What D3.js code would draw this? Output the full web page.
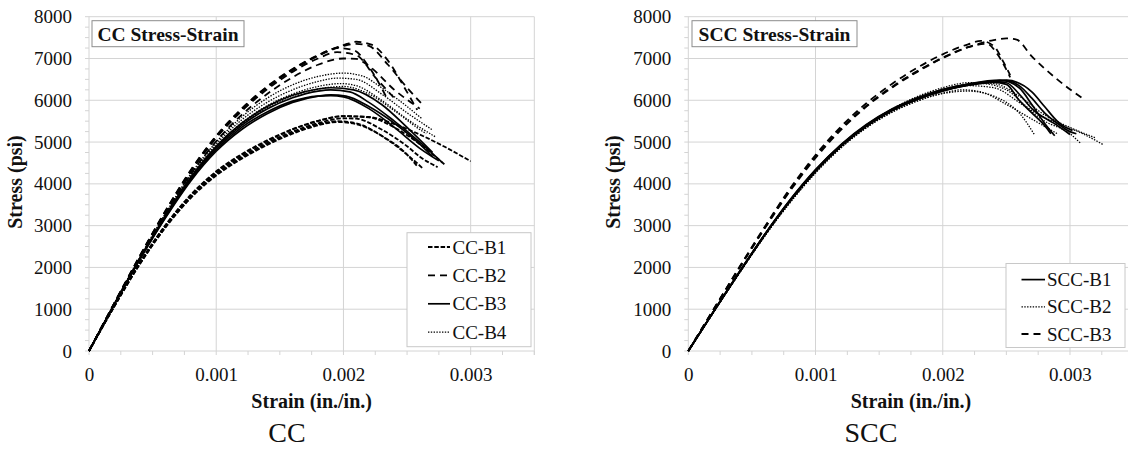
<!DOCTYPE html>
<html>
<head>
<meta charset="utf-8">
<script src="https://cdn.jsdelivr.net/npm/d3@7"></script>
<style>
  body { margin: 0; background: #fff; }
  svg text { font-family: "Liberation Serif", "Times New Roman", serif !important; fill: #111; }
</style>
</head>
<body>
<svg id="fig" width="1128" height="454" font-family="Liberation Serif, serif"></svg>
<script>
// Tick values shared by both panels
const xTicks = [0, 0.001, 0.002, 0.003];
const xTickLabels = ["0", "0.001", "0.002", "0.003"];
const yTicks = [0, 1000, 2000, 3000, 4000, 5000, 6000, 7000, 8000];
const xMinor = [0.00025, 0.0005, 0.00075, 0.00125, 0.0015, 0.00175, 0.00225, 0.0025, 0.00275, 0.00325, 0.0035];
const yMinor = [250, 500, 750, 1250, 1500, 1750, 2250, 2500, 2750, 3250, 3500, 3750, 4250, 4500, 4750,
                5250, 5500, 5750, 6250, 6500, 6750, 7250, 7500, 7750];

// CC specimens, [strain, stress psi]
const ccB1 = [
  [[0,0],[0.0002,1080],[0.0004,2100],[0.0006,2980],[0.0008,3700],[0.001,4250],[0.0012,4650],[0.0014,4980],[0.0016,5250],[0.0018,5450],[0.002,5570],[0.0021,5560],[0.0023,5300],[0.0025,4900],[0.0026,4650],[0.00274,4400]],
  [[0,0],[0.0002,1070],[0.0004,2080],[0.0006,2950],[0.0008,3660],[0.001,4200],[0.0012,4600],[0.0014,4930],[0.0016,5200],[0.0018,5400],[0.00195,5480],[0.0021,5430],[0.0023,5150],[0.0025,4700],[0.00258,4420]],
  [[0,0],[0.0002,1090],[0.0004,2120],[0.0006,3010],[0.0008,3740],[0.001,4300],[0.0012,4710],[0.0014,5040],[0.0016,5310],[0.0018,5510],[0.002,5620],[0.0022,5590],[0.0024,5350],[0.0026,4950],[0.0028,4450]],
  [[0,0],[0.0002,1080],[0.0004,2090],[0.0006,2960],[0.0008,3680],[0.001,4220],[0.0012,4620],[0.0014,4950],[0.0016,5220],[0.0018,5420],[0.00195,5500],[0.0021,5450],[0.0023,5150],[0.0025,4700],[0.00262,4380]],
  [[0,0],[0.0002,1090],[0.0004,2110],[0.0006,3000],[0.0008,3720],[0.001,4280],[0.0012,4690],[0.0014,5020],[0.0016,5300],[0.0018,5500],[0.002,5620],[0.0022,5600],[0.0024,5430],[0.0026,5180],[0.0028,4880],[0.003,4540]]
];
const ccB2 = [
  [[0,0],[0.0002,1150],[0.0004,2280],[0.0006,3350],[0.0008,4330],[0.001,5150],[0.0012,5800],[0.0014,6330],[0.0016,6750],[0.0018,7080],[0.002,7320],[0.0021,7400],[0.00222,7330],[0.00235,6950],[0.00248,6300],[0.00258,5770]],
  [[0,0],[0.0002,1140],[0.0004,2260],[0.0006,3320],[0.0008,4290],[0.001,5100],[0.0012,5740],[0.0014,6260],[0.0016,6680],[0.0018,7000],[0.00195,7150],[0.0021,7080],[0.00225,6550],[0.0024,6050]],
  [[0,0],[0.0002,1130],[0.0004,2240],[0.0006,3280],[0.0008,4230],[0.001,5020],[0.0012,5650],[0.0014,6150],[0.0016,6550],[0.0018,6850],[0.002,7000],[0.0021,6990],[0.0022,6820],[0.0024,6250],[0.0026,5800]],
  [[0,0],[0.0002,1150],[0.0004,2270],[0.0006,3340],[0.0008,4320],[0.001,5140],[0.0012,5790],[0.0014,6320],[0.0016,6740],[0.0018,7070],[0.00195,7250],[0.00208,7200],[0.0022,6800],[0.00235,6000]],
  [[0,0],[0.0002,1145],[0.0004,2270],[0.0006,3330],[0.0008,4300],[0.001,5120],[0.0012,5770],[0.0014,6300],[0.0016,6720],[0.0018,7060],[0.002,7300],[0.0021,7350],[0.0022,7300],[0.00235,6850],[0.0025,6300],[0.00262,5900]]
];
const ccB3 = [
  [[0,0],[0.0002,1120],[0.0004,2200],[0.0006,3200],[0.0008,4100],[0.001,4820],[0.0012,5350],[0.0014,5720],[0.0016,5980],[0.0018,6100],[0.0019,6110],[0.002,6080],[0.0022,5800],[0.0024,5350],[0.0026,4850],[0.00275,4550]],
  [[0,0],[0.0002,1125],[0.0004,2210],[0.0006,3220],[0.0008,4130],[0.001,4860],[0.0012,5400],[0.0014,5790],[0.0016,6060],[0.0018,6220],[0.0019,6250],[0.00205,6200],[0.0022,5950],[0.0024,5500],[0.0026,5000],[0.00278,4500]],
  [[0,0],[0.0002,1130],[0.0004,2220],[0.0006,3240],[0.0008,4160],[0.001,4900],[0.0012,5450],[0.0014,5850],[0.0016,6120],[0.0018,6270],[0.0019,6300],[0.00208,6250],[0.0023,5900],[0.0025,5350],[0.0027,4750]],
  [[0,0],[0.0002,1115],[0.0004,2190],[0.0006,3180],[0.0008,4070],[0.001,4780],[0.0012,5300],[0.0014,5680],[0.0016,5950],[0.0018,6100],[0.0019,6130],[0.00202,6100],[0.0022,5850],[0.0024,5450],[0.0026,4950],[0.0027,4650]]
];
const ccB4 = [
  [[0,0],[0.0002,1130],[0.0004,2230],[0.0006,3260],[0.0008,4200],[0.001,4950],[0.0012,5530],[0.0014,5950],[0.0016,6250],[0.0018,6450],[0.00195,6530],[0.0021,6500],[0.0023,6150],[0.0025,5700],[0.0027,5290]],
  [[0,0],[0.0002,1125],[0.0004,2220],[0.0006,3240],[0.0008,4160],[0.001,4900],[0.0012,5460],[0.0014,5870],[0.0016,6150],[0.0018,6330],[0.00198,6400],[0.0021,6350],[0.0023,6000],[0.0025,5550],[0.00272,5130]],
  [[0,0],[0.0002,1140],[0.0004,2250],[0.0006,3290],[0.0008,4240],[0.001,5000],[0.0012,5600],[0.0014,6050],[0.0016,6370],[0.0018,6570],[0.002,6650],[0.00215,6580],[0.0023,6300],[0.0025,5850],[0.00262,5550]],
  [[0,0],[0.0002,1125],[0.0004,2210],[0.0006,3230],[0.0008,4140],[0.001,4870],[0.0012,5420],[0.0014,5820],[0.0016,6100],[0.0018,6270],[0.002,6330],[0.0022,6150],[0.0024,5750],[0.0026,5300],[0.00265,5200]]
];

// SCC specimens
const sccB1 = [
  [[0,0],[0.0002,950],[0.0004,1880],[0.0006,2780],[0.0008,3600],[0.001,4320],[0.0012,4920],[0.0014,5400],[0.0016,5770],[0.0018,6040],[0.002,6240],[0.0022,6370],[0.0024,6450],[0.0025,6470],[0.0026,6350],[0.0027,6050],[0.0028,5700],[0.0029,5450],[0.003,5250],[0.00305,5200]],
  [[0,0],[0.0002,955],[0.0004,1890],[0.0006,2790],[0.0008,3620],[0.001,4340],[0.0012,4940],[0.0014,5420],[0.0016,5790],[0.0018,6060],[0.002,6260],[0.0022,6390],[0.00245,6480],[0.0026,6300],[0.0027,5900],[0.0028,5450],[0.00288,5150]],
  [[0,0],[0.0002,945],[0.0004,1870],[0.0006,2770],[0.0008,3590],[0.001,4300],[0.0012,4900],[0.0014,5380],[0.0016,5750],[0.0018,6020],[0.002,6220],[0.0022,6360],[0.0024,6440],[0.0025,6420],[0.0026,6150],[0.0027,5800],[0.0029,5400],[0.003,5180]],
  [[0,0],[0.0002,950],[0.0004,1885],[0.0006,2785],[0.0008,3610],[0.001,4330],[0.0012,4930],[0.0014,5410],[0.0016,5780],[0.0018,6050],[0.002,6250],[0.0022,6390],[0.0024,6460],[0.0025,6480],[0.0027,6200],[0.0028,5850],[0.0029,5500],[0.003,5300],[0.00302,5280]],
  [[0,0],[0.0002,948],[0.0004,1875],[0.0006,2775],[0.0008,3595],[0.001,4310],[0.0012,4910],[0.0014,5390],[0.0016,5760],[0.0018,6030],[0.002,6230],[0.0022,6360],[0.0024,6430],[0.0025,6380],[0.0026,6000],[0.0027,5700],[0.0028,5400],[0.00285,5200]]
];
const sccB2 = [
  [[0,0],[0.0002,940],[0.0004,1860],[0.0006,2750],[0.0008,3560],[0.001,4270],[0.0012,4870],[0.0014,5350],[0.0016,5720],[0.0018,5990],[0.002,6160],[0.0022,6220],[0.0024,6100],[0.0025,5950],[0.0026,5700],[0.00272,5180]],
  [[0,0],[0.0002,945],[0.0004,1870],[0.0006,2760],[0.0008,3580],[0.001,4290],[0.0012,4890],[0.0014,5380],[0.0016,5760],[0.0018,6050],[0.002,6260],[0.0022,6380],[0.0023,6400],[0.0025,6250],[0.0027,5750],[0.0029,5450],[0.0031,5200],[0.00326,4940]],
  [[0,0],[0.0002,942],[0.0004,1865],[0.0006,2755],[0.0008,3570],[0.001,4280],[0.0012,4880],[0.0014,5360],[0.0016,5740],[0.0018,6030],[0.002,6230],[0.0022,6350],[0.0024,6300],[0.0026,5950],[0.0028,5500],[0.003,5200],[0.00308,4980]],
  [[0,0],[0.0002,948],[0.0004,1875],[0.0006,2770],[0.0008,3590],[0.001,4300],[0.0012,4910],[0.0014,5400],[0.0016,5790],[0.0018,6090],[0.002,6300],[0.0022,6420],[0.0024,6400],[0.0026,6100],[0.0028,5650],[0.003,5350],[0.0032,5100]],
  [[0,0],[0.0002,940],[0.0004,1858],[0.0006,2745],[0.0008,3550],[0.001,4260],[0.0012,4860],[0.0014,5340],[0.0016,5710],[0.0018,5980],[0.002,6170],[0.00215,6250],[0.0023,6200],[0.0025,5900],[0.0027,5550],[0.0029,5200]]
];
const sccB3 = [
  [[0,0],[0.0002,1000],[0.0004,1990],[0.0006,2950],[0.0008,3860],[0.001,4650],[0.0012,5320],[0.0014,5870],[0.0016,6320],[0.0018,6700],[0.002,7020],[0.0022,7270],[0.00235,7350],[0.00243,7100],[0.00253,6550]],
  [[0,0],[0.0002,1005],[0.0004,2000],[0.0006,2970],[0.0008,3890],[0.001,4690],[0.0012,5370],[0.0014,5930],[0.0016,6390],[0.0018,6780],[0.002,7100],[0.0022,7340],[0.0023,7420],[0.0024,7300],[0.00248,6900],[0.00253,6600]],
  [[0,0],[0.0002,995],[0.0004,1975],[0.0006,2930],[0.0008,3830],[0.001,4620],[0.0012,5290],[0.0014,5850],[0.0016,6300],[0.0018,6680],[0.002,7010],[0.0022,7270],[0.0024,7440],[0.0025,7480],[0.00258,7450],[0.0027,7050],[0.0029,6500],[0.00312,6000]]
];

const styles = {
  shortDash: { dash: "4.5,1.8", width: 1.8 },
  longDash:  { dash: "7,5",     width: 1.8 },
  solid:     { dash: null,      width: 1.7 },
  dot:       { dash: "1.4,1.4", width: 1.3 }
};

const svg = d3.select("#fig");
const gridColor = "#d4d4d4";
const serif = '"Liberation Serif", "Times New Roman", serif';

function drawChart(cfg) {
  const g = svg.append("g");
  const x = d3.scaleLinear().domain([0, 0.0035]).range([cfg.x0, cfg.x1]);
  const y = d3.scaleLinear().domain([0, 8000]).range([351, 16.7]);

  // gridlines
  g.selectAll(".hgrid").data(yTicks.slice(1)).join("line")
    .attr("x1", x(0) - 4).attr("x2", x(0.0035))
    .attr("y1", d => y(d)).attr("y2", d => y(d))
    .attr("stroke", gridColor).attr("stroke-width", 1);
  g.selectAll(".vgrid").data([0.001, 0.002, 0.003, 0.0035]).join("line")
    .attr("x1", d => x(d)).attr("x2", d => x(d))
    .attr("y1", y(8000)).attr("y2", y(0) + 4)
    .attr("stroke", gridColor).attr("stroke-width", 1);

  // minor ticks
  g.selectAll(".ymin").data(yMinor).join("line")
    .attr("x1", x(0) - 4).attr("x2", x(0))
    .attr("y1", d => y(d)).attr("y2", d => y(d))
    .attr("stroke", gridColor);
  g.selectAll(".xmin").data(xMinor).join("line")
    .attr("x1", d => x(d)).attr("x2", d => x(d))
    .attr("y1", y(0)).attr("y2", y(0) + 4)
    .attr("stroke", gridColor);

  // axis lines
  g.append("line").attr("x1", x(0) - 4).attr("x2", x(0.0035)).attr("y1", y(0)).attr("y2", y(0))
    .attr("stroke", gridColor);
  g.append("line").attr("x1", x(0)).attr("x2", x(0)).attr("y1", y(8000)).attr("y2", y(0) + 4)
    .attr("stroke", gridColor);

  // tick labels
  const xa = g.append("g").attr("transform", `translate(0,${y(0)})`)
    .call(d3.axisBottom(x).tickValues(xTicks).tickFormat((d, i) => xTickLabels[i]).tickSize(0).tickPadding(17));
  const ya = g.append("g").attr("transform", `translate(${x(0)},0)`)
    .call(d3.axisLeft(y).tickValues(yTicks).tickFormat(d3.format("d")).tickSize(0).tickPadding(17));
  [xa, ya].forEach(a => {
    a.attr("font-family", serif);
    a.select(".domain").remove();
    a.selectAll("text").style("font-size", "19px").attr("fill", "#111");
  });

  // curves
  const line = d3.line().x(d => x(d[0])).y(d => y(d[1])).curve(d3.curveMonotoneX);
  cfg.series.forEach(s => {
    const st = styles[s.style];
    g.append("g").selectAll("path").data(s.curves).join("path")
      .attr("d", line)
      .attr("fill", "none")
      .attr("stroke", "#000")
      .attr("stroke-width", st.width)
      .attr("stroke-dasharray", st.dash);
  });

  // axis titles
  g.append("text")
    .attr("x", (x(0) + x(0.0035)) / 2).attr("y", 408)
    .attr("text-anchor", "middle")
    .style("font-size", "20px").style("font-weight", "bold")
    .text("Strain (in./in.)");
  g.append("text")
    .attr("transform", `translate(${cfg.yTitleX},182) rotate(-90)`)
    .attr("text-anchor", "middle")
    .style("font-size", "20px").style("font-weight", "bold")
    .text("Stress (psi)");

  // title box
  g.append("rect")
    .attr("x", cfg.titleBox[0]).attr("y", 20.7)
    .attr("width", cfg.titleBox[1]).attr("height", 26)
    .attr("fill", "#fff").attr("stroke", "#8c8c8c");
  g.append("text")
    .attr("x", cfg.titleBox[0] + cfg.titleBox[1] / 2).attr("y", 40.5)
    .attr("text-anchor", "middle")
    .style("font-size", "19.5px").style("font-weight", "bold")
    .text(cfg.title);

  // legend
  const lg = cfg.legend;
  g.append("rect")
    .attr("x", lg.x).attr("y", lg.y).attr("width", lg.w).attr("height", lg.h)
    .attr("fill", "#fff").attr("stroke", "#c8c8c8");
  const items = g.selectAll(".leg").data(cfg.series).join("g")
    .attr("transform", (d, i) => `translate(0,${lg.first + i * lg.step})`);
  items.append("line")
    .attr("x1", lg.lx0).attr("x2", lg.lx1).attr("y1", 0).attr("y2", 0)
    .attr("stroke", "#000")
    .attr("stroke-width", d => styles[d.style].width)
    .attr("stroke-dasharray", d => styles[d.style].dash);
  items.append("text")
    .attr("x", lg.tx).attr("y", 6.5)
    .style("font-size", "19px")
    .text(d => d.name);

  // caption
  g.append("text")
    .attr("x", cfg.captionX).attr("y", 442)
    .attr("text-anchor", "middle")
    .style("font-size", "28px")
    .text(cfg.caption);
}

drawChart({
  x0: 89, x1: 534.3,
  yTitleX: 22,
  title: "CC Stress-Strain", titleBox: [92, 152],
  caption: "CC", captionX: 287,
  series: [
    { name: "CC-B1", style: "shortDash", curves: ccB1 },
    { name: "CC-B2", style: "longDash", curves: ccB2 },
    { name: "CC-B3", style: "solid", curves: ccB3 },
    { name: "CC-B4", style: "dot", curves: ccB4 }
  ],
  legend: { x: 407, y: 232.7, w: 124, h: 114, first: 247, step: 28.4, lx0: 428, lx1: 450, tx: 452.5 }
});

drawChart({
  x0: 688.3, x1: 1133.6,
  yTitleX: 620,
  title: "SCC Stress-Strain", titleBox: [692, 165],
  caption: "SCC", captionX: 871,
  series: [
    { name: "SCC-B1", style: "solid", curves: sccB1 },
    { name: "SCC-B2", style: "dot", curves: sccB2 },
    { name: "SCC-B3", style: "longDash", curves: sccB3 }
  ],
  legend: { x: 1006, y: 263.5, w: 119, h: 84, first: 279.6, step: 27.2, lx0: 1021.5, lx1: 1045, tx: 1047 }
});
</script>
</body>
</html>
